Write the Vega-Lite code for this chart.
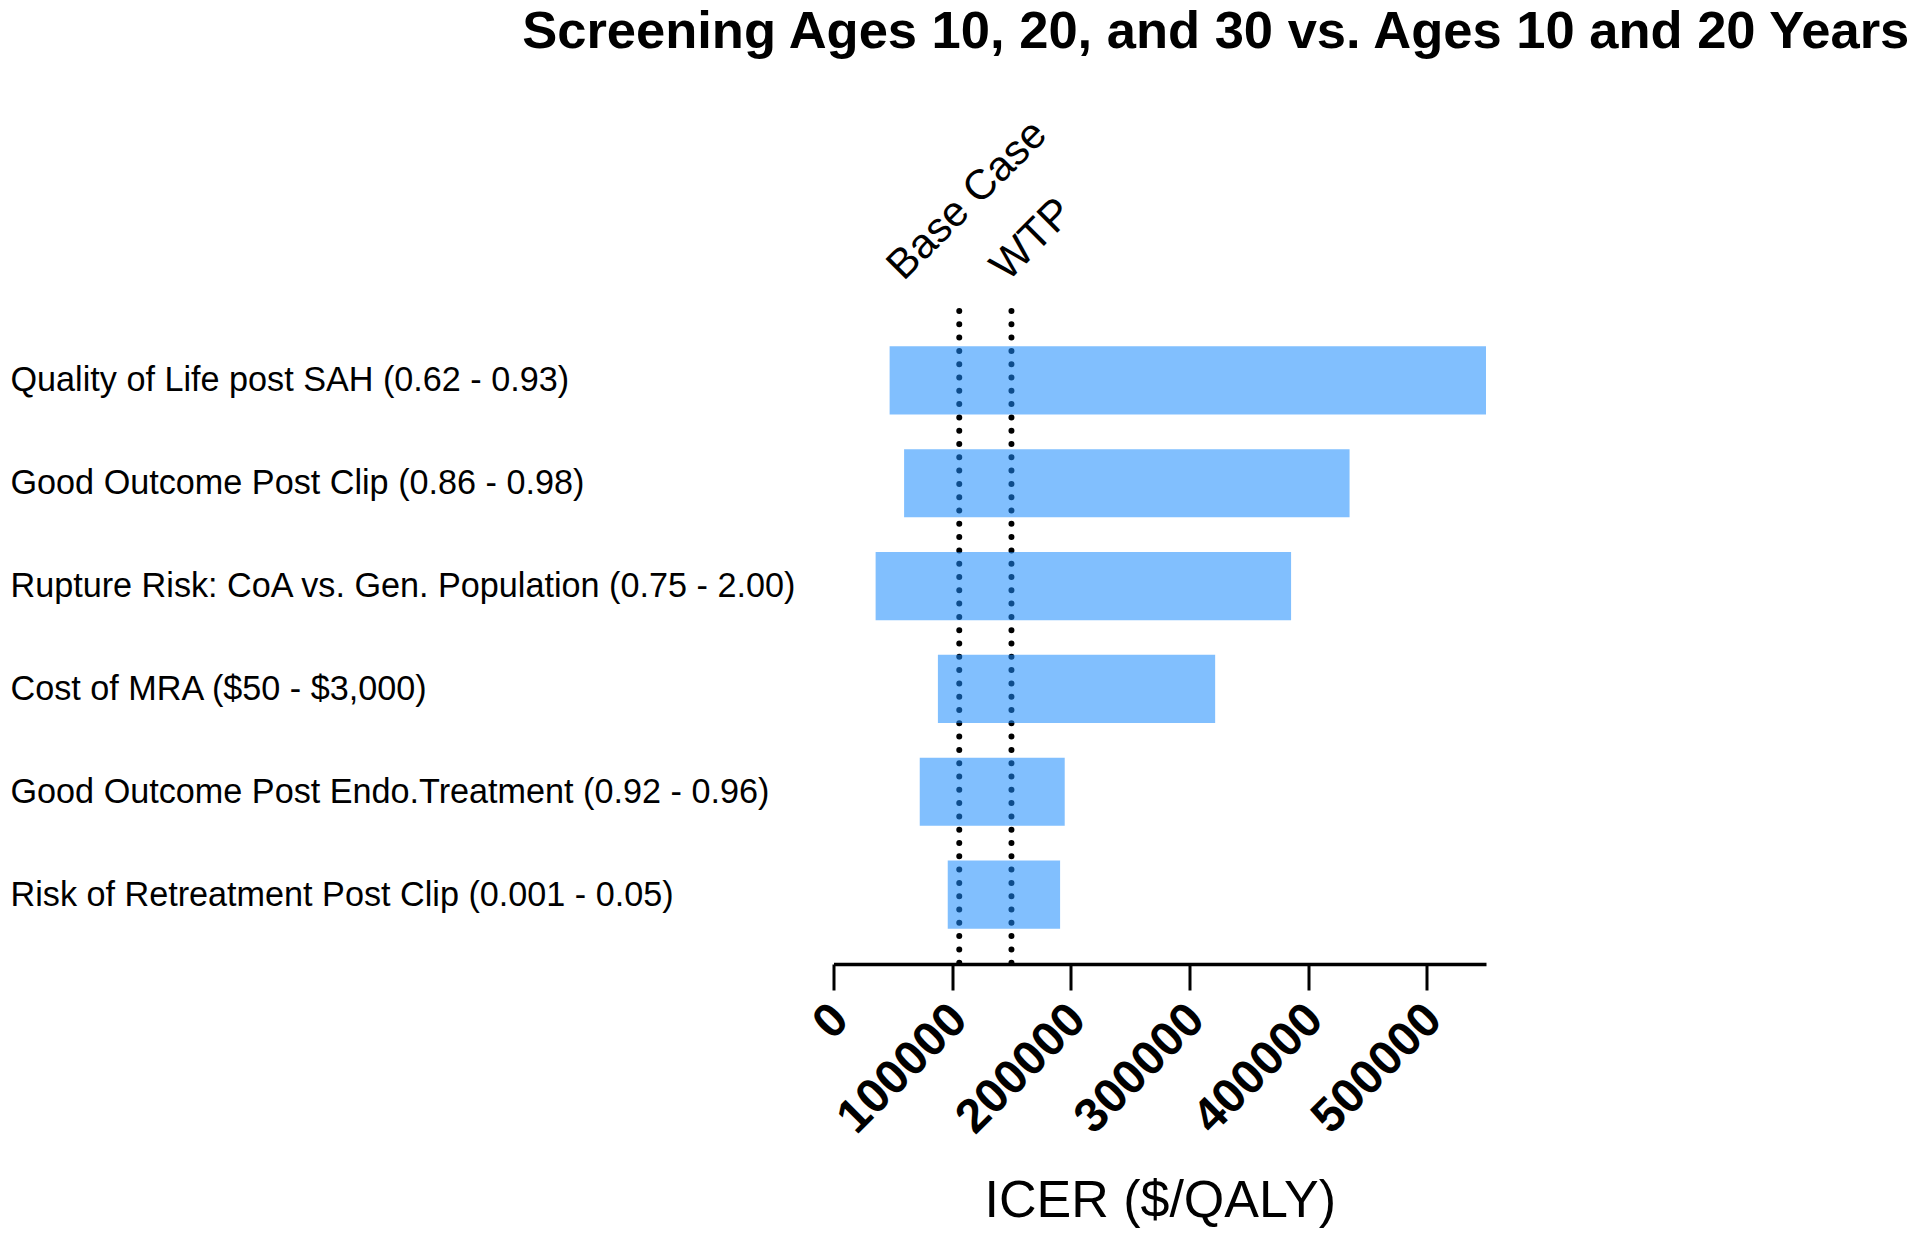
{
  "$schema": "https://vega.github.io/schema/vega-lite/v6.json",
  "width": 652.5,
  "height": 653,
  "autosize": {"type": "none"},
  "padding": {"left": 833.5, "top": 311, "right": 433, "bottom": 273},
  "background": "white",
  "config": {
    "view": {"stroke": null},
    "font": "Liberation Sans",
    "numberFormat": "d",
    "axisX": {
      "titleFont": "Liberation Sans",
      "titleFontSize": 52,
      "titleFontWeight": "normal",
      "titleColor": "black",
      "titlePadding": 33,
      "labelFont": "Liberation Sans",
      "labelFontSize": 48,
      "labelFontWeight": "bold",
      "labelColor": "black",
      "labelAngle": -45,
      "labelAlign": "right",
      "labelBaseline": "top",
      "labelPadding": 5,
      "labelOffset": -10,
      "labelOverlap": false,
      "labelFlush": false,
      "tickSize": 26,
      "tickWidth": 3,
      "tickColor": "black",
      "tickCount": 6,
      "domainColor": "black",
      "domainWidth": 3.3,
      "grid": false
    },
    "axisY": {
      "domain": false,
      "ticks": false,
      "tickSize": 0,
      "labelAlign": "left",
      "labelBaseline": "middle",
      "labelPadding": 823.5,
      "labelOffset": 1,
      "labelFont": "Liberation Sans",
      "labelFontSize": 34.2,
      "labelColor": "black",
      "labelLimit": 0,
      "grid": false
    }
  },
  "title": {
    "text": "Screening Ages 10, 20, and 30 vs. Ages 10 and 20 Years",
    "font": "Liberation Sans",
    "fontSize": 52.5,
    "fontWeight": "bold",
    "color": "black",
    "anchor": "middle",
    "frame": "group",
    "baseline": "alphabetic",
    "dx": 56,
    "offset": 12
  },
  "datasets": {
    "bars": [
      {"parameter": "Quality of Life post SAH (0.62 - 0.93)", "low": 47300, "high": 550000},
      {"parameter": "Good Outcome Post Clip (0.86 - 0.98)", "low": 59500, "high": 435000},
      {"parameter": "Rupture Risk: CoA vs. Gen. Population (0.75 - 2.00)", "low": 35500, "high": 385700},
      {"parameter": "Cost of MRA ($50 - $3,000)", "low": 88000, "high": 321700},
      {"parameter": "Good Outcome Post Endo.Treatment (0.92 - 0.96)", "low": 72700, "high": 194900},
      {"parameter": "Risk of Retreatment Post Clip (0.001 - 0.05)", "low": 96300, "high": 191000}
    ],
    "refs": [
      {"label": "Base Case", "value": 106000},
      {"label": "WTP", "value": 150000}
    ]
  },
  "layer": [
    {
      "data": {"name": "refs"},
      "mark": {"type": "rule", "color": "black", "strokeWidth": 6, "strokeDash": [0, 13.3], "strokeCap": "round"},
      "encoding": {
        "x": {"field": "value", "type": "quantitative", "title": "ICER ($/QALY)", "scale": {"domain": [0, 550000], "nice": false}}
      }
    },
    {
      "data": {"name": "bars"},
      "mark": {"type": "bar", "color": "#1A8BFD", "opacity": 0.55},
      "encoding": {
        "y": {
          "field": "parameter",
          "type": "nominal",
          "sort": null,
          "title": null,
          "scale": {"paddingInner": 0.337, "paddingOuter": 0.344}
        },
        "x": {"field": "low", "type": "quantitative", "title": "ICER ($/QALY)", "scale": {"domain": [0, 550000], "nice": false}},
        "x2": {"field": "high"}
      }
    },
    {
      "data": {"name": "refs"},
      "transform": [{"filter": "datum.label === 'Base Case'"}],
      "mark": {"type": "text", "angle": -45, "align": "center", "baseline": "middle", "dx": 84, "dy": -73, "font": "Liberation Sans", "fontSize": 42, "color": "black"},
      "encoding": {
        "x": {"field": "value", "type": "quantitative", "title": "ICER ($/QALY)"},
        "y": {"value": 0},
        "text": {"field": "label"}
      }
    },
    {
      "data": {"name": "refs"},
      "transform": [{"filter": "datum.label === 'WTP'"}],
      "mark": {"type": "text", "angle": -45, "align": "center", "baseline": "middle", "dx": 65, "dy": -36, "font": "Liberation Sans", "fontSize": 43, "color": "black"},
      "encoding": {
        "x": {"field": "value", "type": "quantitative", "title": "ICER ($/QALY)"},
        "y": {"value": 0},
        "text": {"field": "label"}
      }
    }
  ]
}
